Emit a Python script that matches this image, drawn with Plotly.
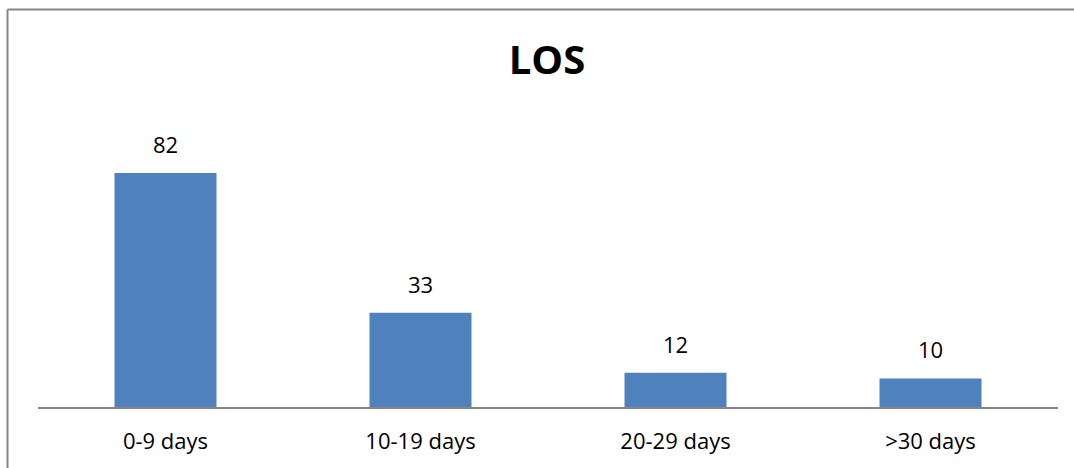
import plotly.graph_objects as go

categories = ["0-9 days", "10-19 days", "20-29 days", ">30 days"]
values = [82, 33, 12, 10]
title_text = "LOS"

BAR_COLOR = "#4F81BD"
LINE_COLOR = "#868686"
FONT = "Open Sans, Liberation Sans, sans-serif"

W, H = 1074, 468
ml, mr, mt, mb = 38, 16, 100, 61
plot_w = W - ml - mr
plot_h = H - mt - mb
px_per_unit = 2.854
ymax = plot_h / px_per_unit

fig = go.Figure(
    go.Bar(
        x=categories,
        y=values,
        marker=dict(color=BAR_COLOR, line=dict(width=0)),
        width=0.4,
        hoverinfo="skip",
    )
)

for c, v in zip(categories, values):
    fig.add_annotation(
        x=c, y=v, text=str(v), showarrow=False,
        yanchor="bottom", yshift=12,
        font=dict(family=FONT, size=22, color="#000000"),
    )

def px_x(p):
    return (p - ml) / plot_w

def px_y(p):
    return (H - mb - p) / plot_h

fig.add_shape(type="line", xref="paper", yref="paper",
              x0=px_x(7.5), x1=px_x(7.5), y0=px_y(9.5), y1=px_y(470),
              line=dict(color=LINE_COLOR, width=2))
fig.add_shape(type="line", xref="paper", yref="paper",
              x0=px_x(7.5), x1=px_x(1076), y0=px_y(9.5), y1=px_y(9.5),
              line=dict(color=LINE_COLOR, width=2))

fig.update_layout(
    width=W, height=H,
    margin=dict(l=ml, r=mr, t=mt, b=mb, pad=0),
    paper_bgcolor="white", plot_bgcolor="white",
    showlegend=False,
    title=dict(text=f"<b>{title_text}</b>", x=(547 - 0) / W, xanchor="center",
               y=1 - 60 / H, yanchor="middle",
               font=dict(family=FONT, size=40, color="#000000")),
    xaxis=dict(showline=True, linecolor=LINE_COLOR, linewidth=2,
               ticks="", showgrid=False, zeroline=False,
               tickfont=dict(family=FONT, size=22, color="#000000"),
               ticklabelstandoff=14,
               range=[-0.5, 3.5]),
    yaxis=dict(visible=False, range=[0, ymax], showgrid=False, zeroline=False),
    bargap=0.6,
)

fig.write_html("out.html")
